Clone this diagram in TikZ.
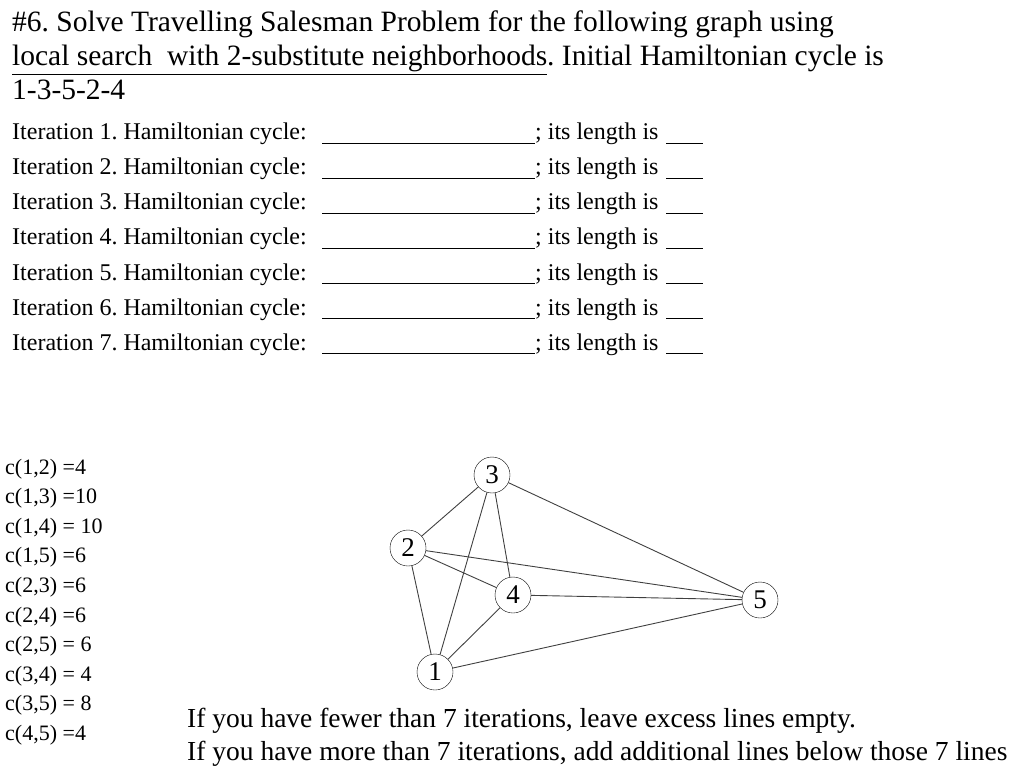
\documentclass[tikz,border=0pt]{standalone}
\usepackage{fontspec}
\setmainfont{Liberation Serif}
\frenchspacing
\begin{document}
\begin{tikzpicture}[x=1pt,y=-1pt,
  txt/.style={anchor=base west,inner sep=0pt,font=\fontsize{24}{26}\selectfont},
  cst/.style={anchor=base west,inner sep=0pt,font=\fontsize{22}{24}\selectfont},
  btm/.style={anchor=base west,inner sep=0pt,font=\fontsize{27.5}{30}\selectfont},
  ttl/.style={anchor=base west,inner sep=0pt,font=\fontsize{29.5}{32}\selectfont},
  vtx/.style={circle,draw,minimum size=36pt,inner sep=0pt,font=\fontsize{27}{28}\selectfont},
  edge/.style={draw=black!75,line width=0.9pt}]
\useasboundingbox (0,0) rectangle (1024,775);
\node[ttl] (t1) at (12,32) {\#6. Solve Travelling Salesman Problem for the following graph using};
\node[ttl] (t2) at (12,66) {\underline{local search\ \ with 2-substitute neighborhoods}. Initial Hamiltonian cycle is};
\node[ttl] (t3) at (12,100) {1-3-5-2-4};
\foreach \i in {1,...,7}{
  \pgfmathsetmacro\yy{140+35*(\i-1)}
  \node[txt] (it\i) at (12,\yy) {Iteration \i. Hamiltonian cycle:};
  \draw[line width=0.7pt] (322,\yy+3) -- (535,\yy+3);
  \node[txt] (len\i) at (535,\yy) {; its length is};
  \draw[line width=0.7pt] (666,\yy+3) -- (703,\yy+3);
}
\foreach \t [count=\i from 0] in {{c(1,2) =4},{c(1,3) =10},{c(1,4) = 10},{c(1,5) =6},{c(2,3) =6},{c(2,4) =6},{c(2,5) = 6},{c(3,4) = 4},{c(3,5) = 8},{c(4,5) =4}}{
  \node[cst] (c\i) at (5,474+29.6*\i) {\t};
}
\node[vtx] (n3) at (492,475) {3};
\node[vtx] (n2) at (408,548) {2};
\node[vtx] (n4) at (513,595) {4};
\node[vtx] (n5) at (760,600) {5};
\node[vtx] (n1) at (435,672) {1};
\draw[edge] (n2) -- (n3);
\draw[edge] (n2) -- (n1);
\draw[edge] (n2) -- (n4);
\draw[edge] (n2) -- (n5);
\draw[edge] (n3) -- (n1);
\draw[edge] (n3) -- (n4);
\draw[edge] (n3) -- (n5);
\draw[edge] (n4) -- (n5);
\draw[edge] (n4) -- (n1);
\draw[edge] (n1) -- (n5);
\node[btm] (b1) at (187,727) {If you have fewer than 7 iterations, leave excess lines empty.};
\node[btm] (b2) at (187,760) {If you have more than 7 iterations, add additional lines below those 7 lines};
\end{tikzpicture}
\end{document}
